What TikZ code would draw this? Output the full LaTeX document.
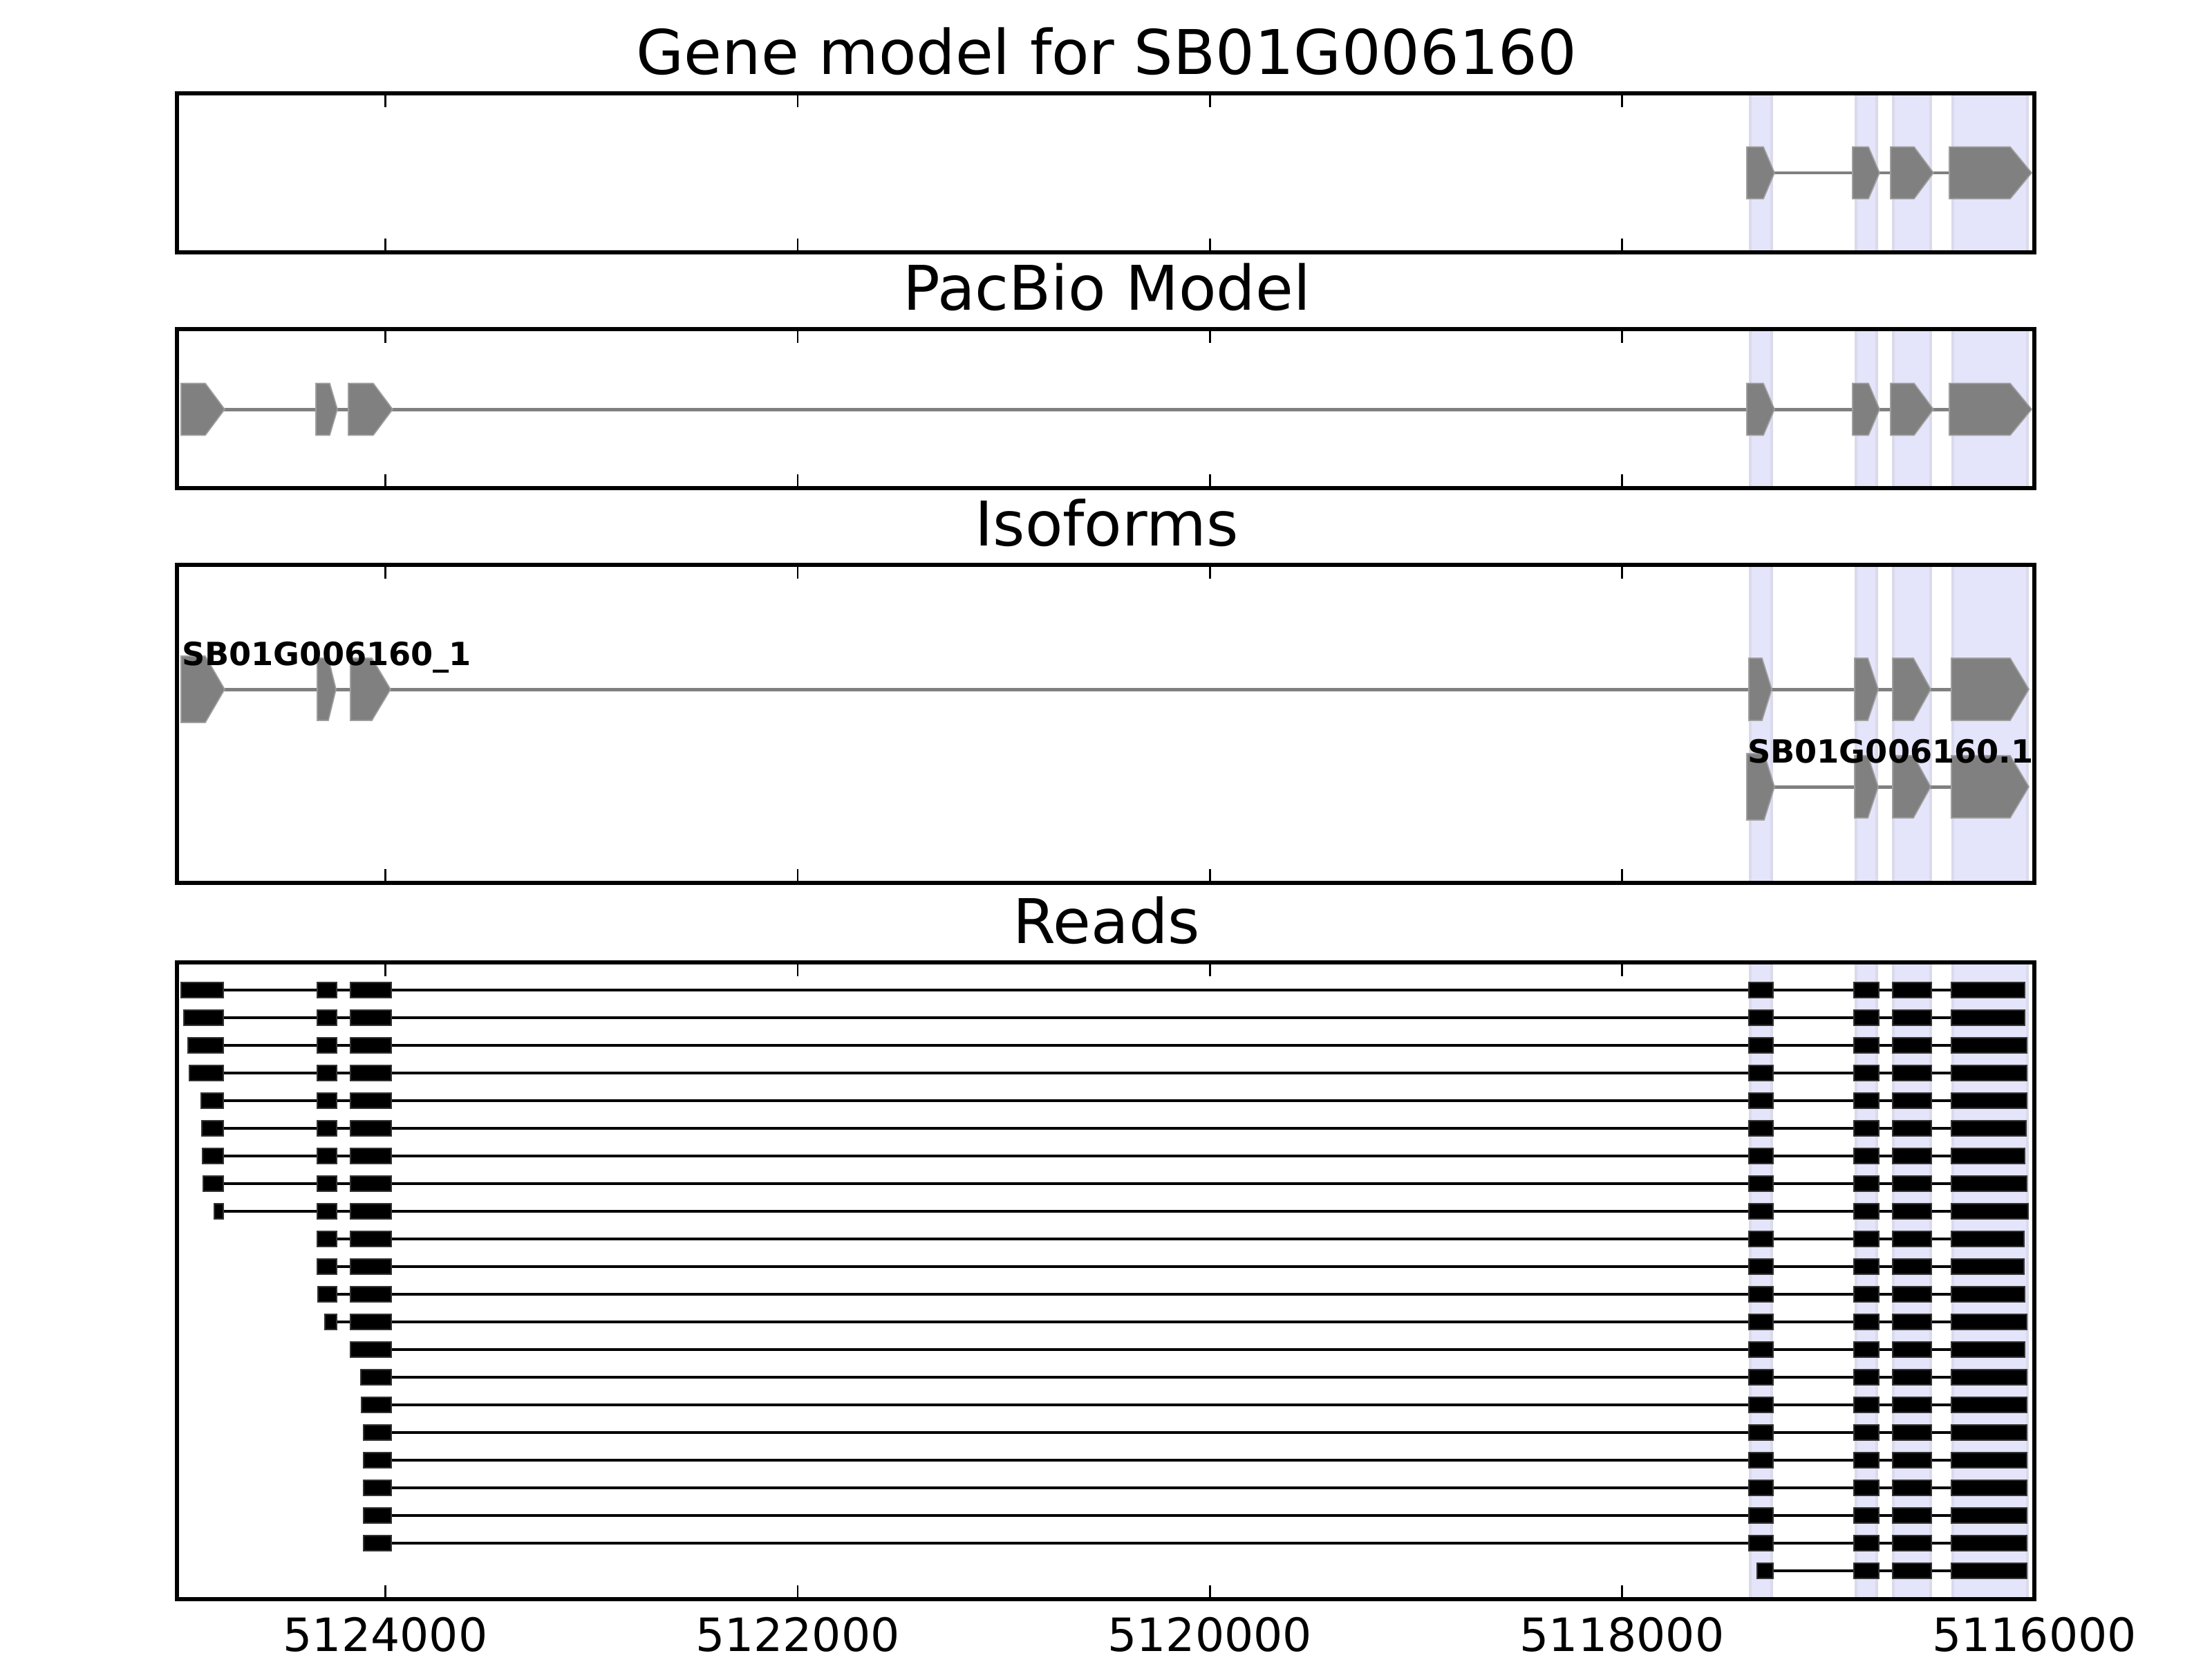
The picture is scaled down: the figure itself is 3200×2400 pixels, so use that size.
\documentclass[tikz,border=0pt]{standalone}
\usepackage{fontspec}
\setmainfont{DejaVu Sans}
\definecolor{bandfill}{RGB}{228,228,250}
\definecolor{bandedge}{RGB}{218,218,236}
\definecolor{exongray}{RGB}{128,128,128}
% exon arrow: start, end of flat part, tip, centre y, half height
\newcommand{\genexon}[5]{%
  \filldraw[exon] (#1,#4-#5) -- (#2,#4-#5) -- (#3,#4) -- (#2,#4+#5) -- (#1,#4+#5) -- cycle;}
\begin{document}
\begin{tikzpicture}[x=0.180675pt, y=-0.180675pt, line join=miter,
  spine/.style={line width=1pt},
  tick/.style={line width=0.5pt},
  band/.style={fill=bandfill, draw=bandedge, line width=0.6pt},
  exon/.style={fill=exongray, draw=gray!75, line width=0.3pt},
  intron/.style={draw=exongray, line width=0.9pt},
  read/.style={line width=0.75pt},
  rexon/.style={fill=black, draw=black!80, line width=0.3pt},
  title/.style={font=\fontsize{16.1}{19}\selectfont, anchor=base},
  tlabel/.style={font=\fontsize{12}{14}\selectfont, anchor=base},
  isolabel/.style={font=\fontsize{8.35}{10}\selectfont\bfseries, anchor=base west, inner sep=0pt}]
\useasboundingbox (0,0) rectangle (3200,2400);
% Bands and titles
\foreach \p/\t/\b/\txt in {gene/135/365/Gene model for SB01G006160, pacbio/476/706/PacBio Model,
    iso/817/1277/Isoforms, reads/1392/2313/Reads} {
  \foreach \l/\r in {2532/2563, 2685/2715, 2739/2793, 2825/2933}
    \filldraw[band] (\l,\t) rectangle (\r,\b);
  \node[title] (title-\p) at (1601,\t-28) {\txt};
}
% Gene model
\draw[intron] (2527,250) -- (2908,250);
\foreach \s/\f/\e in {2527/2551/2567, 2680/2703/2719, 2735/2769/2797, 2820/2908/2939}
  \genexon{\s}{\f}{\e}{250}{37.5};
% PacBio model
\draw[intron] (262,592) -- (2908,592);
\foreach \s/\f/\e in {262/297/325, 457/477/488, 504/540/568,
    2527/2551/2567, 2680/2703/2719, 2735/2769/2797, 2820/2908/2939}
  \genexon{\s}{\f}{\e}{592}{37.5};
% Isoforms
\draw[intron] (262,997) -- (2908,997);
\genexon{262}{297}{325}{997}{48}
\foreach \s/\f/\e in {459/475/486, 507/538/565,
    2530/2549/2563, 2683/2702/2717, 2738/2768/2793, 2823/2908/2935}
  \genexon{\s}{\f}{\e}{997}{45};
\draw[intron] (2527,1138) -- (2908,1138);
\genexon{2527}{2552}{2567}{1138}{48}
\foreach \s/\f/\e in {2683/2702/2717, 2738/2768/2793, 2823/2908/2935}
  \genexon{\s}{\f}{\e}{1138}{45};
\node[isolabel] (iso-a) at (262,962) {SB01G006160\_1};
\node[isolabel] (iso-b) at (2527,1103) {SB01G006160.1};
% Reads: row / line start / exon starts (0 = none) / last exon end
\foreach \i/\ls/\ea/\eb/\ec/\ra/\rd in {
    1/262/262/459/507/2530/2929, 2/266/266/459/507/2530/2929,
    3/272/272/459/507/2530/2932, 4/274/274/459/507/2530/2932,
    5/291/291/459/507/2530/2932, 6/292/292/459/507/2530/2931,
    7/293/293/459/507/2530/2929, 8/294/294/459/507/2530/2932,
    9/310/310/459/507/2530/2934, 10/459/0/459/507/2530/2928,
    11/459/0/459/507/2530/2928, 12/460/0/460/507/2530/2929,
    13/470/0/470/507/2530/2932, 14/507/0/0/507/2530/2929,
    15/522/0/0/522/2530/2932, 16/523/0/0/523/2530/2932,
    17/526/0/0/526/2530/2932, 18/526/0/0/526/2530/2932,
    19/526/0/0/526/2530/2932, 20/526/0/0/526/2530/2932,
    21/526/0/0/526/2530/2932, 22/2542/0/0/0/2542/2932} {
  \pgfmathsetmacro\y{1392+40*\i}
  \draw[read] (\ls,\y) -- (\rd,\y);
  \ifnum\ea>0 \filldraw[rexon] (\ea,\y-11) rectangle (323,\y+11); \fi
  \ifnum\eb>0 \filldraw[rexon] (\eb,\y-11) rectangle (487,\y+11); \fi
  \ifnum\ec>0 \filldraw[rexon] (\ec,\y-11) rectangle (566,\y+11); \fi
  \filldraw[rexon] (\ra,\y-11) rectangle (2565,\y+11);
  \filldraw[rexon] (2682,\y-11) rectangle (2718,\y+11);
  \filldraw[rexon] (2738,\y-11) rectangle (2794,\y+11);
  \filldraw[rexon] (2823,\y-11) rectangle (\rd,\y+11);
}
% Axes frames and ticks
\foreach \t/\b in {135/365, 476/706, 817/1277, 1392/2313} {
  \draw[spine] (256,\t) rectangle (2943,\b);
  \foreach \x in {557.5, 1153.9, 1750.3, 2346.6, 2943} {
    \draw[tick] (\x,\t) -- ++(0,20);
    \draw[tick] (\x,\b) -- ++(0,-20);
  }
}
\foreach \x/\v in {557.5/5124000, 1153.9/5122000, 1750.3/5120000, 2346.6/5118000, 2943/5116000}
  \node[tlabel] (tick-\v) at (\x,2388) {\v};
\end{tikzpicture}
\end{document}
